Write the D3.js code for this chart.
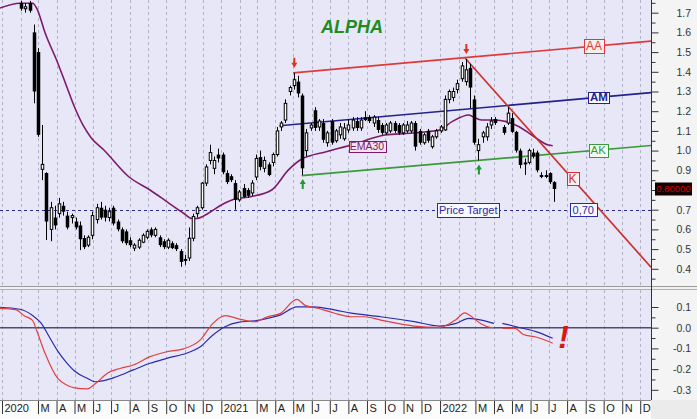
<!DOCTYPE html>
<html><head><meta charset="utf-8">
<script src="https://cdn.jsdelivr.net/npm/d3@7"></script>
<style>
body{margin:0;background:#fff}
svg{display:block}
text{font-family:"Liberation Sans",Arial,sans-serif}
</style>
</head><body>
<svg id="c" width="697" height="419"></svg>
<script>
// ---------------- DATA ----------------
const title = "ALPHA";
const firstCandle = "2020-02-02";           // weekly candles
const opens  = [1.75,1.72,1.75,1.60,1.50,0.905,0.886,0.60,0.66,0.68,0.72,0.67,0.66,0.64,0.62,0.556,0.52,0.57,0.65,0.71,0.70,0.66,0.71,0.64,0.60,0.59,0.545,0.505,0.51,0.535,0.56,0.60,0.57,0.56,0.54,0.51,0.53,0.52,0.49,0.45,0.455,0.555,0.68,0.71,0.835,0.95,0.91,0.98,0.98,0.886,0.87,0.835,0.75,0.81,0.80,0.785,0.866,0.967,0.91,0.93,0.94,0.98,1.12,1.155,1.30,1.33,1.35,1.28,1.00,1.115,1.205,1.12,1.14,1.04,1.15,1.05,1.08,1.06,1.105,1.115,1.15,1.115,1.17,1.17,1.14,1.155,1.13,1.09,1.10,1.14,1.13,1.09,1.10,1.10,1.14,1.10,1.04,1.10,1.02,1.07,1.10,1.105,1.26,1.27,1.31,1.365,1.35,1.42,1.26,1.00,1.07,1.07,1.13,1.16,null,1.12,1.14,1.165,1.095,1.00,0.94,0.94,0.99,0.99,0.876,0.876,0.886,0.84];
const highs  = [1.76,1.75,1.76,1.64,1.52,1.13,0.89,0.74,0.72,0.76,0.74,0.69,0.68,0.66,0.64,0.57,0.57,0.69,0.73,0.74,0.72,0.71,0.72,0.65,0.61,0.60,0.56,0.53,0.555,0.58,0.60,0.61,0.61,0.57,0.55,0.555,0.54,0.53,0.50,0.47,0.61,0.68,0.72,0.84,0.93,1.03,0.97,1.01,0.99,0.90,0.88,0.85,0.80,0.83,0.81,0.85,0.98,1.00,0.97,0.94,0.99,1.12,1.15,1.26,1.33,1.395,1.38,1.29,1.11,1.14,1.22,1.16,1.16,1.10,1.16,1.11,1.14,1.14,1.16,1.17,1.17,1.17,1.20,1.18,1.18,1.17,1.14,1.14,1.15,1.15,1.14,1.14,1.15,1.15,1.15,1.11,1.09,1.11,1.08,1.11,1.13,1.28,1.31,1.32,1.36,1.45,1.465,1.44,1.28,1.06,1.10,1.14,1.17,1.17,null,1.13,1.22,1.19,1.10,1.01,0.96,1.01,1.01,1.00,0.89,0.90,0.89,0.845];
const lows   = [1.71,1.70,1.70,1.24,1.07,0.85,0.546,0.54,0.60,0.66,0.67,0.60,0.63,0.60,0.495,0.50,0.51,0.55,0.63,0.65,0.64,0.64,0.62,0.59,0.53,0.52,0.51,0.49,0.50,0.53,0.55,0.56,0.56,0.51,0.50,0.50,0.50,0.49,0.41,0.42,0.44,0.54,0.66,0.70,0.82,0.93,0.88,0.94,0.88,0.83,0.84,0.70,0.74,0.76,0.76,0.77,0.85,0.90,0.89,0.87,0.92,0.97,1.10,1.14,1.28,1.31,1.27,0.876,0.97,1.10,1.10,1.10,1.04,1.02,1.03,1.04,1.06,1.05,1.09,1.10,1.10,1.10,1.15,1.14,1.12,1.09,1.08,1.08,1.09,1.09,1.08,1.08,1.09,1.09,1.00,1.03,1.03,1.04,1.01,1.06,1.09,1.10,1.24,1.25,1.29,1.35,1.33,1.215,1.03,0.95,1.04,1.05,1.11,1.13,null,1.08,1.13,1.09,0.99,0.91,0.876,0.93,0.96,0.89,0.86,0.86,0.83,0.74];
const closes = [1.72,1.73,1.71,1.30,1.08,0.93,0.64,0.71,0.62,0.73,0.69,0.61,0.67,0.61,0.55,0.51,0.56,0.67,0.71,0.66,0.66,0.69,0.63,0.60,0.54,0.53,0.52,0.52,0.545,0.57,0.59,0.57,0.60,0.52,0.51,0.545,0.505,0.50,0.435,0.44,0.555,0.665,0.71,0.835,0.917,0.99,0.95,0.96,0.89,0.84,0.85,0.75,0.79,0.765,0.77,0.835,0.96,0.917,0.95,0.876,0.98,1.10,1.14,1.24,1.32,1.36,1.29,0.91,1.09,1.13,1.115,1.15,1.055,1.09,1.04,1.10,1.12,1.115,1.13,1.155,1.115,1.155,1.155,1.15,1.17,1.105,1.09,1.13,1.14,1.10,1.09,1.13,1.13,1.14,1.02,1.04,1.08,1.05,1.07,1.10,1.12,1.26,1.30,1.30,1.34,1.43,1.41,1.32,1.04,1.03,1.09,1.12,1.15,1.14,null,1.09,1.19,1.095,1.00,0.927,0.93,1.00,0.97,0.90,0.866,0.866,0.84,0.805];

// indicator series sampled by week number from this date
const indicatorStart = "2019-12-27";
const emaWeeks  = [0,5,8,9,11,14,16,18,20,22,25,31,36,40,44,46,47,50,53,56,60,65,69,72,74,78,81,84,92,98,102,105,108,112,113,115,118,121,124,127,131,132];
const emaValues = [1.722,1.748,1.748,1.722,1.597,1.445,1.333,1.221,1.130,1.064,1.003,0.866,0.800,0.741,0.682,0.655,0.655,0.683,0.724,0.753,0.766,0.800,0.902,0.955,0.973,0.994,1.012,1.028,1.079,1.088,1.096,1.105,1.147,1.181,1.172,1.155,1.155,1.147,1.121,1.079,1.028,1.025];
const macdWeeks  = [0,4,6,8,9,11,14,16,18,21,23,26,29,32,36,40,44,48,51,54,57,61,64,67,71,73,76,80,84,87,91,99,105,109,111,112,115,117,118,119,120,123,125,128,132];
const macdValues = [0.094,0.087,0.058,0.035,-0.015,-0.125,-0.245,-0.276,-0.291,-0.296,-0.270,-0.218,-0.196,-0.180,-0.140,-0.116,-0.102,-0.059,0.021,0.058,0.043,0.029,0.053,0.068,0.137,0.108,0.094,0.070,0.053,0.053,0.037,0.008,0.002,0.040,0.072,0.063,0.018,0.002,0.0,null,-0.003,-0.003,-0.033,-0.045,-0.075];
const signalWeeks  = [0,5,8,10,12,14,16,18,21,23,25,28,32,36,40,45,48,51,54,57,61,64,67,71,75,80,84,91,99,105,109,112,115,118,119,120,124,128,132];
const signalValues = [0.099,0.089,0.059,0.023,-0.045,-0.113,-0.166,-0.209,-0.244,-0.261,-0.256,-0.237,-0.204,-0.172,-0.148,-0.121,-0.092,-0.035,0.006,0.026,0.033,0.045,0.061,0.101,0.101,0.086,0.070,0.053,0.029,0.008,0.021,0.045,0.037,0.021,null,0.021,0.001,-0.019,-0.051];

// trend lines
const trendNames       = ["AA","AM","AK","K"];
const trendStartDates  = ["2021-05-01","2021-04-08","2021-05-15","2022-02-12"];
const trendStartValues = [1.395,1.126,0.873,1.469];
const trendEndDate     = "2022-12-19";
const trendEndValues   = [1.556,1.294,1.026,0.408];
const trendLabelDates  = ["2022-09-15","2022-09-23","2022-09-22","2022-08-10"];

const priceTarget = 0.70;
const priceTargetText = "Price Target";
const priceTargetValueText = "0,70";
const lastPriceText = "0.80000";
const emaLabel = "EMA30";

const priceTicks = [0.4,0.5,0.6,0.7,0.8,0.9,1.0,1.1,1.2,1.3,1.4,1.5,1.6,1.7];
const priceMinor = [0.35,0.45,0.55,0.65,0.75,0.85,0.95,1.05,1.15,1.25,1.35,1.45,1.55,1.65,1.75];
const macdTicks = [0.1,0.0,-0.1,-0.2,-0.3];
const macdMinor = [0.05,-0.05,-0.15,-0.25];
const monthLetters = ["","F","M","A","M","J","J","A","S","O","N","D"];

// ---------------- CHART ----------------
const P = d3.utcParse("%Y-%m-%d");
const BG = "#e7e7f8";
const svg = d3.select("#c");
const plotR = 651;

const x = d3.scaleUtc().domain([Date.UTC(2020,0,1), P(trendEndDate)]).range([2, plotR]);
const y = d3.scaleLinear().domain([0.4,1.7]).range([268.8,12.7]);
const ym = d3.scaleLinear().domain([-0.3,0.1]).range([389.8,307]);
const lastClose = closes[closes.length-1];

// backgrounds
svg.append("rect").attr("width",697).attr("height",419).attr("fill","#fff");
svg.append("rect").attr("x",0).attr("y",0).attr("width",plotR).attr("height",287).attr("fill",BG);
svg.append("rect").attr("x",plotR).attr("y",0).attr("width",697-plotR).attr("height",400).attr("fill","#f4f4f4");
svg.append("rect").attr("x",0).attr("y",290).attr("width",plotR).attr("height",110).attr("fill",BG);
svg.append("rect").attr("x",0).attr("y",286.5).attr("width",697).attr("height",3.5).attr("fill","#f0f0f0");
svg.append("line").attr("x1",0).attr("x2",697).attr("y1",286.5).attr("y2",286.5).attr("stroke","#9a9a9a");
svg.append("line").attr("x1",0).attr("x2",697).attr("y1",289.5).attr("y2",289.5).attr("stroke","#b0b0b0");
svg.append("rect").attr("x",0).attr("y",400).attr("width",plotR).attr("height",19).attr("fill","#fcfcfc");
svg.append("rect").attr("x",plotR).attr("y",400).attr("width",697-plotR).attr("height",19).attr("fill","#ebebeb");
svg.append("line").attr("x1",0).attr("x2",plotR).attr("y1",400.5).attr("y2",400.5).attr("stroke","#888");

// clip paths
const defs = svg.append("defs");
defs.append("clipPath").attr("id","cm").append("rect").attr("x",0).attr("y",0).attr("width",plotR).attr("height",286);
defs.append("clipPath").attr("id","cl").append("rect").attr("x",0).attr("y",290).attr("width",plotR).attr("height",110);

// month grid
const months = d3.utcMonth.range(Date.UTC(2020,0,1), Date.UTC(2022,11,2));
const grid = svg.append("g").attr("stroke","#b2b2c6").attr("stroke-dasharray","3,3");
months.forEach(m=>{
  const xx = Math.round(x(m))+0.5;
  grid.append("line").attr("x1",xx).attr("x2",xx).attr("y1",0).attr("y2",286);
  grid.append("line").attr("x1",xx).attr("x2",xx).attr("y1",290).attr("y2",400);
});

// bottom month axis
const labelMonths = months.filter(m=>m.getUTCMonth()!==1);
const xAxis = d3.axisBottom(x).tickValues(labelMonths).tickSize(13)
  .tickFormat(m=> m.getUTCMonth()===0 ? String(m.getUTCFullYear()) : monthLetters[m.getUTCMonth()]);
const gx = svg.append("g").attr("transform","translate(0,401)").call(xAxis);
gx.select(".domain").remove();
gx.selectAll(".tick line").attr("stroke","#333");
gx.selectAll(".tick text").attr("x",2).attr("y",3.5).attr("dy","0.71em").attr("text-anchor","start")
  .attr("font-size",11).attr("fill","#222").style("font-family","'Liberation Sans',Arial,sans-serif");

// price target dashed line
const mainG = svg.append("g").attr("clip-path","url(#cm)");
mainG.append("line").attr("x1",0).attr("x2",plotR).attr("y1",Math.round(y(priceTarget))+0.5).attr("y2",Math.round(y(priceTarget))+0.5)
  .attr("stroke","#2b2b8c").attr("stroke-dasharray","3,3").attr("stroke-width",1);

// EMA
const ind0 = P(indicatorStart);
const indDate = i => d3.utcDay.offset(ind0, 7*i);
const emaPts = emaWeeks.map((w,i)=>({d:indDate(w), v:emaValues[i]}));
mainG.append("path").attr("d", d3.line().x(p=>x(p.d)).y(p=>y(p.v)).curve(d3.curveMonotoneX)(emaPts))
  .attr("fill","none").attr("stroke","#7d1a6c").attr("stroke-width",1.6);

// trend lines
const trendColors = ["#df3a3a","#22228f","#3a9a3a","#cc3030"];
trendNames.forEach((n,i)=>{
  mainG.append("line")
    .attr("x1",x(P(trendStartDates[i]))).attr("y1",y(trendStartValues[i]))
    .attr("x2",x(P(trendEndDate))).attr("y2",y(trendEndValues[i]))
    .attr("stroke",trendColors[i]).attr("stroke-width",1.7);
});

// candles
const c0 = P(firstCandle);
const candles = opens.map((o,k)=>({d:d3.utcDay.offset(c0,7*k), o, h:highs[k], l:lows[k], c:closes[k]})).filter(c=>c.o!=null);
const cg = mainG.append("g");
candles.forEach(c=>{
  const cx = Math.round(x(c.d));
  cg.append("line").attr("x1",cx+0.5).attr("x2",cx+0.5).attr("y1",y(c.h)).attr("y2",y(c.l)).attr("stroke","#000").attr("stroke-width",1);
  const top = y(Math.max(c.o,c.c)), bot = y(Math.min(c.o,c.c));
  if (c.c < c.o) {
    cg.append("rect").attr("x",cx-1.25).attr("y",top).attr("width",3.5).attr("height",Math.max(1.2,bot-top)).attr("fill","#000");
  } else {
    cg.append("rect").attr("x",cx-0.75).attr("y",top).attr("width",2.5).attr("height",Math.max(1,bot-top))
      .attr("fill","#fff").attr("stroke","#000").attr("stroke-width",1);
  }
});

// arrows at swing points (by candle index)
const candleAt = k => ({d:d3.utcDay.offset(c0,7*k), h:highs[k], l:lows[k]});
function downArrow(k){
  const c = candleAt(k), ax = x(c.d)+0.5, tip = y(c.h)-5;
  mainG.append("path").attr("d",`M${ax-1},${tip-10}H${ax+1}V${tip-5}H${ax+3}L${ax},${tip}L${ax-3},${tip-5}H${ax-1}Z`).attr("fill","#e03020");
}
function upArrow(k){
  const c = candleAt(k), ax = x(c.d)+0.5, tip = y(c.l)+4;
  mainG.append("path").attr("d",`M${ax-1},${tip+10}H${ax+1}V${tip+5}H${ax+3}L${ax},${tip}L${ax-3},${tip+5}H${ax-1}Z`).attr("fill","#1e9a2e");
}
downArrow(65); downArrow(106); upArrow(67); upArrow(109);

// label boxes
function labelBox(cx, cy, txt, color, fill, fs, h, padX, weight){
  const g = svg.append("g");
  const r = g.append("rect");
  const t = g.append("text").attr("x",cx).attr("y",cy).attr("dy","0.36em").attr("text-anchor","middle")
    .attr("font-size",fs).attr("fill",color).attr("font-weight",weight||"normal").text(txt);
  const w = t.node().getComputedTextLength() + 2*padX;
  r.attr("x",Math.round(cx-w/2)+0.5).attr("y",Math.round(cy-h/2)+0.5).attr("width",Math.round(w)).attr("height",h)
    .attr("fill",fill).attr("stroke",color).attr("stroke-width",1);
}
const lineValAt = (i, dateStr) => {
  const t0 = P(trendStartDates[i]).getTime(), t1 = P(trendEndDate).getTime(), t = P(dateStr).getTime();
  return trendStartValues[i] + (trendEndValues[i]-trendStartValues[i])*(t-t0)/(t1-t0);
};
const boxFills = ["#fbeeee","#f8f8ff","#f3fbf3","#fbeeee"];
const boxFs = [12,11.5,11.5,12];
const boxH = [14,11,13,13];
trendNames.forEach((n,i)=>{
  labelBox(x(P(trendLabelDates[i])), y(lineValAt(i,trendLabelDates[i])), n, trendColors[i], boxFills[i], boxFs[i], boxH[i], 1.8, i===1?"bold":"normal");
});
labelBox(x(P("2022-02-17")), y(priceTarget), priceTargetText, "#2a2aa8", "#f8f8ff", 11, 14, 1.8);
labelBox(x(P("2022-08-28")), y(priceTarget), priceTargetValueText, "#2a2aa8", "#f8f8ff", 11, 13, 2.8);
labelBox(x(P("2021-09-01")), y(1.023), emaLabel, "#7d1a6c", "#f4e4f0", 10.5, 11, 1.2);

// title
svg.append("text").attr("x",352).attr("y",33).attr("text-anchor","middle").attr("font-size",18)
  .attr("font-weight","bold").attr("font-style","italic").attr("fill","#1f8c22").text(title);

// lower panel
const lowG = svg.append("g").attr("clip-path","url(#cl)");
lowG.append("line").attr("x1",0).attr("x2",plotR).attr("y1",ym(0)).attr("y2",ym(0)).attr("stroke","#4c4c70").attr("stroke-width",1.4);
const ml = d3.line().defined(p=>p.v!=null).x(p=>x(p.d)).y(p=>ym(p.v)).curve(d3.curveMonotoneX);
lowG.append("path").attr("d", ml(signalWeeks.map((w,i)=>({d:indDate(w), v:signalValues[i]}))))
  .attr("fill","none").attr("stroke","#2a2ab0").attr("stroke-width",1.2);
lowG.append("path").attr("d", ml(macdWeeks.map((w,i)=>({d:indDate(w), v:macdValues[i]}))))
  .attr("fill","none").attr("stroke","#e04040").attr("stroke-width",1.2);
// warning mark
svg.append("text").attr("x",x(P("2022-07-26"))).attr("y",ym(-0.098)).attr("text-anchor","middle")
  .attr("font-size",32).attr("font-weight","bold").attr("font-style","italic").attr("fill","#d81818").text("!");

// right axes
svg.append("line").attr("x1",plotR+0.5).attr("x2",plotR+0.5).attr("y1",0).attr("y2",400).attr("stroke","#333");
function rightAxis(scale, major, minor, hideLabelNear){
  const g1 = svg.append("g").attr("transform",`translate(${plotR+0.5},0)`)
    .call(d3.axisRight(scale).tickValues(major).tickSize(7).tickFormat(v=>v.toFixed(1)));
  g1.select(".domain").remove();
  g1.selectAll(".tick line").attr("stroke","#333");
  g1.selectAll(".tick text").attr("x",39.5).attr("text-anchor","end").attr("font-size",10.5).attr("fill","#333")
    .style("font-family","'Liberation Sans',Arial,sans-serif");
  // the last-price tag covers the label next to it
  if (hideLabelNear != null) {
    g1.selectAll(".tick").filter(v=>Math.abs(scale(v)-scale(hideLabelNear))<9).select("text").remove();
  }
  const g2 = svg.append("g").attr("transform",`translate(${plotR+0.5},0)`)
    .call(d3.axisRight(scale).tickValues(minor).tickSize(4).tickFormat(""));
  g2.select(".domain").remove();
  g2.selectAll(".tick line").attr("stroke","#333");
}
rightAxis(y, priceTicks, priceMinor, lastClose);
rightAxis(ym, macdTicks, macdMinor, null);

// last price tag
svg.append("rect").attr("x",655).attr("y",Math.round(y(lastClose))-6.5).attr("width",37).attr("height",13).attr("fill","#120000");
svg.append("text").attr("x",673.5).attr("y",y(lastClose)).attr("dy","0.36em").attr("text-anchor","middle")
  .attr("font-size",9.5).attr("fill","#d00000").text(lastPriceText);
</script>
</body></html>
